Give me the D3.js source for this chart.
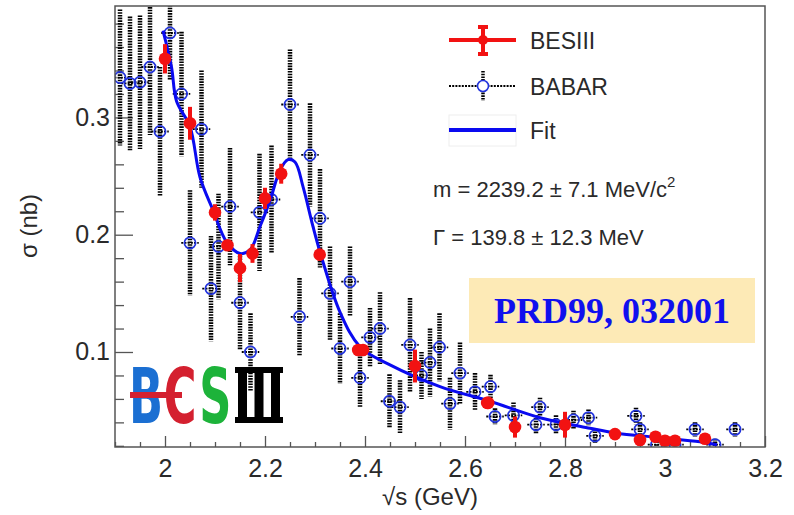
<!DOCTYPE html>
<html>
<head>
<meta charset="utf-8">
<script src="https://cdn.jsdelivr.net/npm/d3@7"></script>
<style>
  body { margin: 0; background: #fff; }
  svg { display: block; }
  text { font-family: "Liberation Sans", Arial, sans-serif; fill: #2a2a2a; }
</style>
</head>
<body>
<svg id="chart" width="794" height="515"></svg>
<script>
// BESIII points: sqrt(s) (GeV), sigma (nb), error
var besX   = [2.0, 2.05, 2.1, 2.125, 2.15, 2.175, 2.2, 2.2324, 2.3094, 2.3864, 2.396, 2.5, 2.6444, 2.6464, 2.7, 2.8, 2.9, 2.95, 2.981, 3.0, 3.02, 3.08];
var besY   = [0.350, 0.295, 0.219, 0.191, 0.1715, 0.184, 0.231, 0.252, 0.183, 0.1017, 0.1017, 0.088, 0.0566, 0.0566, 0.036, 0.038, 0.030, 0.025, 0.0277, 0.0243, 0.0243, 0.026];
var besErr = [0.0125, 0.014, 0.007, 0.004, 0.012, 0.008, 0.009, 0.0085, 0.005, 0.003, 0.003, 0.014, 0.003, 0.003, 0.009, 0.011, 0.004, 0.003, 0.003, 0.003, 0.003, 0.003];

// BABAR points
var babarX   = [1.91, 1.93, 1.95, 1.97, 1.99, 2.01, 2.033, 2.05, 2.073, 2.092, 2.107, 2.13, 2.15, 2.171, 2.189, 2.213, 2.25, 2.269, 2.29, 2.31,
                2.33, 2.35, 2.37, 2.39, 2.41, 2.43, 2.449, 2.47, 2.49, 2.513, 2.53, 2.549, 2.57, 2.59, 2.62, 2.651, 2.66, 2.697, 2.742, 2.75,
                2.782, 2.817, 2.847, 2.86, 2.942, 2.95, 2.983, 3.02, 3.06, 3.1, 3.14];
var babarY   = [0.334, 0.329, 0.330, 0.343, 0.288, 0.372, 0.320, 0.193, 0.290, 0.154, 0.190, 0.224, 0.142, 0.100, 0.219, 0.230, 0.311, 0.130, 0.268, 0.214,
                0.150, 0.103, 0.160, 0.078, 0.1125, 0.120, 0.058, 0.053, 0.106, 0.080, 0.091, 0.104, 0.056, 0.082, 0.066, 0.0705, 0.045, 0.046, 0.038, 0.053,
                0.038, 0.042, 0.044, 0.0285, 0.0455, 0.034, 0.021, 0.021, 0.034, 0.021, 0.034];
var babarErr = [0.058, 0.057, 0.057, 0.058, 0.055, 0.040, 0.053, 0.045, 0.050, 0.045, 0.045, 0.050, 0.040, 0.033, 0.050, 0.046, 0.047, 0.033, 0.044, 0.042,
                0.040, 0.030, 0.030, 0.025, 0.025, 0.031, 0.023, 0.023, 0.040, 0.020, 0.029, 0.029, 0.022, 0.026, 0.016, 0.010, 0.007, 0.011, 0.008, 0.008,
                0.008, 0.008, 0.007, 0.006, 0.007, 0.006, 0.005, 0.005, 0.006, 0.005, 0.006];
var babarXErr = 0.0175;

// fit curve
var fitX = [1.996, 2.013, 2.023, 2.05, 2.07, 2.096, 2.123, 2.15, 2.17, 2.19, 2.21, 2.23, 2.246, 2.26, 2.276, 2.296, 2.313, 2.35, 2.39, 2.45, 2.55, 2.65, 2.75, 2.85, 2.90, 2.99, 3.07, 3.104];
var fitY = [0.374, 0.343, 0.314, 0.292, 0.249, 0.221, 0.194, 0.184, 0.187, 0.207, 0.229, 0.255, 0.264, 0.262, 0.241, 0.207, 0.181, 0.134, 0.1045, 0.089, 0.0705, 0.058, 0.044, 0.035, 0.031, 0.027, 0.0234, 0.021];

var xTicks = [2, 2.2, 2.4, 2.6, 2.8, 3, 3.2];
var yTicks = [0.1, 0.2, 0.3];

(function() {
var RED = "#f21212", BLUE = "#0a0af0", CIRC = "#2233dd";

var svg = d3.select("#chart");
var pL = 115, pR = 765, pT = 6, pB = 447;

var x = d3.scaleLinear().domain([1.9, 3.2]).range([pL, pR]);
var y = d3.scaleLinear().domain([0.019, 0.395]).range([pB, pT]);

svg.append("defs").append("clipPath").attr("id", "clip")
    .append("rect").attr("x", pL).attr("y", pT).attr("width", pR - pL).attr("height", pB - pT);

// axes
var xMinor = d3.range(1.9, 3.2001, 0.05).filter(function(v) { return Math.abs(v * 5 - Math.round(v * 5)) > 1e-6; });
var yMinor = d3.range(0.02, 0.3901, 0.02).filter(function(v) { return Math.abs(v * 10 - Math.round(v * 10)) > 1e-6; });

svg.append("g").attr("transform", "translate(0," + pB + ")")
    .call(d3.axisBottom(x).tickValues(xTicks).tickSize(-11).tickPadding(12).tickFormat(d3.format("")));
svg.append("g").attr("transform", "translate(0," + pB + ")")
    .call(d3.axisBottom(x).tickValues(xMinor).tickSize(-5).tickFormat(""));
svg.append("g").attr("transform", "translate(" + pL + ",0)")
    .call(d3.axisLeft(y).tickValues(yTicks).tickSize(-18).tickPadding(5).tickFormat(d3.format("")));
svg.append("g").attr("transform", "translate(" + pL + ",0)")
    .call(d3.axisLeft(y).tickValues(yMinor).tickSize(-9).tickFormat(""));

svg.selectAll(".domain").remove();
svg.selectAll(".tick line").attr("stroke", "#555").attr("stroke-width", 1.3);
svg.selectAll(".tick text").style("font-size", "25px").attr("fill", "#2a2a2a");

// logo (behind data): one squeezed text, III drawn with bars
var logoTxt = svg.append("text").attr("transform", "translate(129,423) scale(0.58,1)")
    .style("font-family", "DejaVu Sans").style("font-weight", "bold").style("font-size", "77px");
logoTxt.append("tspan").attr("x", 0).style("fill", "#1b6fd2").text("B");
logoTxt.append("tspan").attr("x", 60).style("fill", "#d4202f").text("C");
logoTxt.append("tspan").attr("x", 121).style("fill", "#1db33a").text("S");
svg.append("rect").attr("x", 130).attr("y", 392).attr("width", 52).attr("height", 6).attr("fill", "#d4202f");
svg.append("rect").attr("x", 235).attr("y", 367).attr("width", 48).attr("height", 6).attr("fill", "#000");
svg.append("rect").attr("x", 235).attr("y", 417).attr("width", 48).attr("height", 6).attr("fill", "#000");
[238, 254.5, 271].forEach(function(px) {
    svg.append("rect").attr("x", px).attr("y", 370).attr("width", 9).attr("height", 50).attr("fill", "#000");
});

// PRD label
svg.append("rect").attr("x", 469).attr("y", 278).attr("width", 286).attr("height", 65).attr("fill", "#fdeab6");
svg.append("text").text("PRD99, 032001").attr("x", 612).attr("y", 323).attr("text-anchor", "middle")
    .style("font-family", "\"Liberation Serif\", \"Times New Roman\", serif").style("font-weight", "bold")
    .style("font-size", "36px").style("fill", "#1010ee");

var data = svg.append("g").attr("clip-path", "url(#clip)");

// BABAR error bars
var babar = babarX.map(function(v, i) { return { x: v, y: babarY[i], e: babarErr[i] }; });
data.selectAll("line.bv").data(babar).enter().append("line").attr("class", "bv")
    .attr("x1", function(d) { return x(d.x); }).attr("x2", function(d) { return x(d.x); })
    .attr("y1", function(d) { return y(d.y + d.e); }).attr("y2", function(d) { return y(d.y - d.e); })
    .attr("stroke", "#000").attr("stroke-width", 4.5).attr("stroke-dasharray", "1.6 1.1");
data.selectAll("line.bh").data(babar).enter().append("line").attr("class", "bh")
    .attr("x1", function(d) { return x(d.x - babarXErr); }).attr("x2", function(d) { return x(d.x + babarXErr); })
    .attr("y1", function(d) { return y(d.y); }).attr("y2", function(d) { return y(d.y); })
    .attr("stroke", "#000").attr("stroke-width", 1.8).attr("stroke-dasharray", "2 1.2");
data.selectAll("circle.bc").data(babar).enter().append("circle").attr("class", "bc")
    .attr("cx", function(d) { return x(d.x); }).attr("cy", function(d) { return y(d.y); })
    .attr("r", 5.6).attr("fill", "none").attr("stroke", CIRC).attr("stroke-width", 1.7);

// fit
var line = d3.line().x(function(d) { return x(d[0]); }).y(function(d) { return y(d[1]); }).curve(d3.curveCatmullRom);
data.append("path").datum(d3.zip(fitX, fitY)).attr("d", line)
    .attr("fill", "none").attr("stroke", BLUE).attr("stroke-width", 3);

// BESIII
var bes = besX.map(function(v, i) { return { x: v, y: besY[i], e: besErr[i] }; });
data.selectAll("line.rv").data(bes).enter().append("line").attr("class", "rv")
    .attr("x1", function(d) { return x(d.x); }).attr("x2", function(d) { return x(d.x); })
    .attr("y1", function(d) { return y(d.y + d.e); }).attr("y2", function(d) { return y(d.y - d.e); })
    .attr("stroke", RED).attr("stroke-width", 4);
data.selectAll("circle.rc").data(bes).enter().append("circle").attr("class", "rc")
    .attr("cx", function(d) { return x(d.x); }).attr("cy", function(d) { return y(d.y); })
    .attr("r", 6.3).attr("fill", RED);

// frame
svg.append("rect").attr("x", pL).attr("y", pT).attr("width", pR - pL).attr("height", pB - pT)
    .attr("fill", "none").attr("stroke", "#555").attr("stroke-width", 1.5);

// axis titles
svg.append("text").attr("x", 430).attr("y", 505).attr("text-anchor", "middle").style("font-size", "24px")
    .text("\u221As (GeV)");
svg.append("text").attr("transform", "translate(37,226) rotate(-90)").attr("text-anchor", "middle").style("font-size", "24px")
    .text("\u03c3 (nb)");

// legend
var lg = svg.append("g");
lg.append("line").attr("x1", 449).attr("x2", 516).attr("y1", 40).attr("y2", 40).attr("stroke", RED).attr("stroke-width", 4);
lg.append("line").attr("x1", 483).attr("x2", 483).attr("y1", 26).attr("y2", 55).attr("stroke", RED).attr("stroke-width", 4);
lg.append("line").attr("x1", 478).attr("x2", 488).attr("y1", 27).attr("y2", 27).attr("stroke", RED).attr("stroke-width", 4);
lg.append("line").attr("x1", 478).attr("x2", 488).attr("y1", 54).attr("y2", 54).attr("stroke", RED).attr("stroke-width", 4);
lg.append("circle").attr("cx", 483).attr("cy", 40).attr("r", 5).attr("fill", RED);
lg.append("text").attr("x", 530).attr("y", 49).style("font-size", "23px").text("BESIII");

lg.append("line").attr("x1", 449).attr("x2", 516).attr("y1", 86).attr("y2", 86).attr("stroke", "#000").attr("stroke-width", 1.8).attr("stroke-dasharray", "2 1.2");
lg.append("line").attr("x1", 483).attr("x2", 483).attr("y1", 71).attr("y2", 101).attr("stroke", "#000").attr("stroke-width", 3.5).attr("stroke-dasharray", "1.6 1.1");
lg.append("circle").attr("cx", 483).attr("cy", 86).attr("r", 5.5).attr("fill", "#fff").attr("stroke", CIRC).attr("stroke-width", 1.6);
lg.append("text").attr("x", 530).attr("y", 95).style("font-size", "23px").text("BABAR");

lg.append("rect").attr("x", 449).attr("y", 115).attr("width", 67).attr("height", 31).attr("fill", "none").attr("stroke", "#eee");
lg.append("line").attr("x1", 449).attr("x2", 516).attr("y1", 130).attr("y2", 130).attr("stroke", BLUE).attr("stroke-width", 4);
lg.append("text").attr("x", 530).attr("y", 139).style("font-size", "23px").text("Fit");

var m = svg.append("text").attr("x", 433).attr("y", 197).style("font-size", "22px");
m.append("tspan").text("m = 2239.2 \u00b1 7.1 MeV/c");
m.append("tspan").attr("dy", -10).style("font-size", "15px").text("2");
svg.append("text").attr("x", 433).attr("y", 245).style("font-size", "22px").text("\u0393 = 139.8 \u00b1 12.3 MeV");
})();
</script>
</body>
</html>
